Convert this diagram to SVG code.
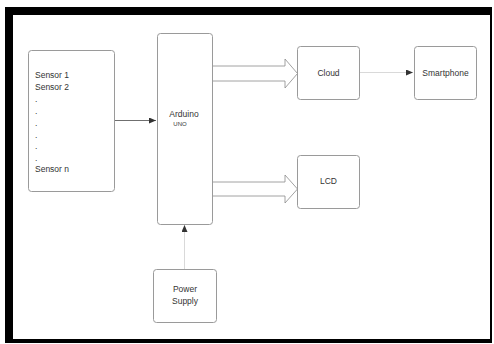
<svg xmlns="http://www.w3.org/2000/svg" width="494" height="344" viewBox="0 0 494 344">
<style>
.box{fill:#fff;stroke:#9a9a9a;stroke-width:1}
.t{font-family:"Liberation Sans",Arial,sans-serif;font-size:8.5px;fill:#333}
.c{text-anchor:middle}
.line{fill:none;stroke:#4a4a4a;stroke-width:0.8}
.thin{fill:none;stroke:#cfcfcf;stroke-width:0.8}
.block{fill:#fff;stroke:#8a8a8a;stroke-width:0.8}
</style>
<defs>
<marker id="ah" markerWidth="8" markerHeight="6" refX="7" refY="3" orient="auto" markerUnits="userSpaceOnUse">
<path d="M0,0 L7,3 L0,6 Z" fill="#333"/>
</marker>
</defs>
<rect x="5" y="7" width="487" height="336" fill="#000"/>
<rect x="13" y="15" width="477" height="324" fill="#fff"/>
<g id="connectors">
<line class="line" x1="114" y1="120.5" x2="156" y2="120.5" marker-end="url(#ah)"/>
<line class="thin" x1="359" y1="72.5" x2="413" y2="72.5" marker-end="url(#ah)"/>
<line class="thin" x1="184.5" y1="269" x2="184.5" y2="225" marker-end="url(#ah)"/>
<path class="block" d="M212,66 L285,66 L285,59 L297.5,73.5 L285,88 L285,81 L212,81"/>
<path class="block" d="M212,182 L285,182 L285,175 L297.5,189 L285,203 L285,196 L212,196"/>
</g>
<g id="sensors">
<rect class="box" x="28.5" y="50.5" width="86" height="141" rx="3"/>
<text class="t" x="35" y="78">Sensor 1</text>
<text class="t" x="35" y="90">Sensor 2</text>
<text class="t" x="35" y="102">.</text>
<text class="t" x="35" y="114">.</text>
<text class="t" x="35" y="126">.</text>
<text class="t" x="35" y="138">.</text>
<text class="t" x="35" y="149">.</text>
<text class="t" x="35" y="161">.</text>
<text class="t" x="35" y="172">Sensor n</text>
</g>
<g id="arduino">
<rect class="box" x="157.5" y="33.5" width="55" height="191" rx="3"/>
<text class="t c" x="184" y="117">Arduino</text>
<text class="t c" x="180" y="126" style="font-size:6px">UNO</text>
</g>
<g id="cloud">
<rect class="box" x="297.5" y="46.5" width="62" height="53" rx="3"/>
<text class="t c" x="328.5" y="75.5">Cloud</text>
</g>
<g id="smartphone">
<rect class="box" x="414.5" y="46.5" width="62" height="53" rx="3"/>
<text class="t c" x="445.5" y="75.5">Smartphone</text>
</g>
<g id="lcd">
<rect class="box" x="297.5" y="155.5" width="62" height="53" rx="3"/>
<text class="t c" x="328.5" y="184">LCD</text>
</g>
<g id="power">
<rect class="box" x="153.5" y="269.5" width="63" height="53" rx="3"/>
<text class="t c" x="185" y="292">Power</text>
<text class="t c" x="185" y="304">Supply</text>
</g>
</svg>
